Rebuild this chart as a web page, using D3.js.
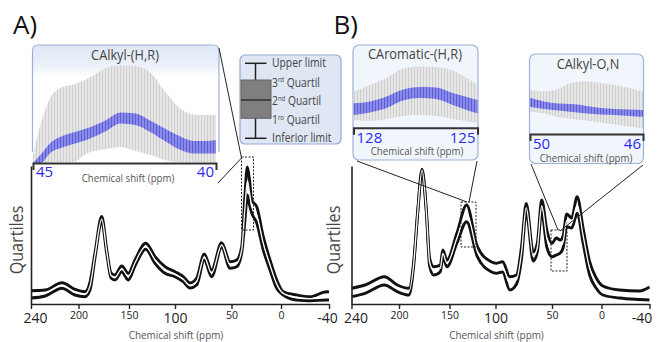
<!DOCTYPE html>
<html><head><meta charset="utf-8">
<script src="https://cdn.jsdelivr.net/npm/d3@7"></script>
<style>body{margin:0;background:#fff}svg{display:block;font-family:'Open Sans',sans-serif}</style>
</head><body><svg id="c" width="657" height="342"></svg>
<script>
// ---------------- DATA ----------------
const tickValues = [240, 200, 150, 100, 50, 0, -40];
const tickBig = [true, false, false, true, false, false, true];
const yLabel = "Quartiles";
const xLabel = "Chemical shift (ppm)";

// Panel A spectrum: ppm, upper quartile, lower quartile (relative intensity)
const specA_ppm   = [240, 228, 214, 203, 193.6, 188.6, 183.7, 177, 172, 167.8, 163.9, 157.2, 150.7, 143.5, 131.8, 121.7, 110.9, 100, 92.7, 86.7, 80.8, 74.1, 67.6, 58.7, 51.3, 44.7, 39.7, 36.4, 34, 31.8, 29.6, 24.5, 17.9, 11.1, 4.3, -1.9, -13.1, -24.2, -38.1, -40];
const specA_upper = [13.3, 14, 21.3, 14.7, 12.3, 22, 51, 87.5, 54, 31, 29, 38, 30.7, 44, 60.7, 47.3, 37.3, 32.3, 27.3, 21, 26, 50, 34, 61.3, 42.3, 44, 57.3, 109, 137, 124, 104, 97.3, 67.3, 44, 24, 12.3, 9, 7.3, 12.3, 12];
const specA_lower = [6, 8, 15.7, 9, 7.3, 14, 46, 82, 50, 26, 24, 32.3, 24, 38, 54.7, 40.7, 30.7, 27.3, 22.3, 16, 19, 44, 27.3, 56.7, 35.7, 37.3, 51, 84, 109, 99, 91, 81, 54, 34, 15.7, 9, 4, 3.3, 4, 4];

// Panel B spectrum
const specB_ppm   = [240, 228.6, 212.3, 201.4, 190.2, 185.3, 181.4, 177.2, 172.9, 169.7, 165.7, 159.1, 156.6, 152.6, 141.9, 131.4, 119.7, 104.8, 99.4, 93.7, 87.4, 81.4, 76.9, 72.8, 66.6, 63, 59.1, 54.6, 50, 45.7, 41.7, 38.8, 35.1, 30.1, 24.6, 18.6, 12, 5.3, -1.1, -15, -31.7, -40];
const specB_upper = [15.7, 19, 27.3, 19, 15.7, 44, 94, 134.7, 94, 46, 37.3, 39, 54, 44, 71, 99, 57.3, 42.3, 40.7, 42.3, 27.3, 29, 58, 100.5, 52, 61, 104, 74, 60.7, 66, 64, 68, 90, 86, 107.3, 76, 42.3, 26, 18, 14, 13, 17];
const specB_lower = [7.3, 10.7, 19, 12.3, 9, 40, 92, 133, 91, 38, 29, 32.3, 47.3, 37.3, 61, 82.3, 47.3, 32.3, 30.7, 32, 14, 20, 46, 92, 43, 52, 92, 57, 47.3, 49, 51, 56, 77.3, 76, 90.7, 61, 29, 15.7, 9, 6, 4.5, 4];

// Inset A: CAlkyl-(H,R), 45 -> 40 ppm
const insA_title = "CAlkyl-(H,R)";
const insA_ppm  = [45, 44.8, 44.5, 44.2, 43.9, 43.5, 43.0, 42.6, 42.2, 41.8, 41.4, 41.0, 40.6, 40.3, 40.0];
const insA_max  = [8, 38, 67, 76, 78.5, 84.5, 95, 97.5, 97, 90.5, 72, 55, 48.5, 48, 48];
const insA_min  = [0, 0, 0.5, 1, 1, 10, 14, 16, 12, 8, 3, 1, 1, 1, 1];
const insA_q3   = [0, 8, 21, 27, 30.5, 35, 43, 50.5, 49.5, 42.5, 34.5, 27, 22, 22, 23];
const insA_q1   = [0, 0, 11, 15.5, 19, 23.5, 32, 39.5, 38, 31, 22, 13.5, 9.5, 9.5, 9.5];
const insA_ticks = [45, 40];

// Inset B1: CAromatic-(H,R), 128 -> 125 ppm
const insB1_title = "CAromatic-(H,R)";
const insB1_ppm = [128, 127.6, 127.2, 126.8, 126.4, 126.0, 125.6, 125.3, 125.0];
const insB1_max = [36, 42.7, 49.7, 59.2, 61.2, 60.7, 57.2, 50.7, 42.7];
const insB1_min = [7.7, 6.7, 8.7, 11.7, 12.7, 11.7, 8.7, 6.7, 4.7];
const insB1_q3  = [24.4, 26.2, 31.2, 38.2, 40.7, 40.2, 34.7, 31.2, 27.7];
const insB1_q1  = [12.7, 15.2, 19.7, 27.2, 29.7, 28.7, 22.7, 18.2, 14.4];
const insB1_ticks = [128, 125];

// Inset B2: CAlkyl-O,N, 50 -> 46 ppm
const insB2_title = "CAlkyl-O,N";
const insB2_ppm = [50, 49.5, 49, 48.5, 48, 47.5, 47, 46.5, 46];
const insB2_max = [44, 42.5, 45, 51.5, 52.5, 51, 49, 46, 42.3];
const insB2_min = [22.3, 20.5, 17, 15, 13.5, 11.5, 9.5, 7.5, 5.7];
const insB2_q3  = [36.3, 32.5, 30.5, 30, 28, 26, 25, 24.5, 24];
const insB2_q1  = [27.3, 25, 23.5, 22, 20.5, 19.5, 19, 18, 17.3];
const insB2_ticks = [50, 46];

// Legend
const legendLabels = [["Upper limit", ""], ["3", "rd", " Quartil"], ["2", "nd", " Quartil"], ["1", "ro", " Quartil"], ["Inferior limit", ""]];

// ---------------- DRAW ----------------
const svg = d3.select('#c');
const defs = svg.append('defs');
const pg = defs.append('pattern').attr('id', 'gs').attr('width', 3).attr('height', 4).attr('patternUnits', 'userSpaceOnUse');
pg.append('rect').attr('width', 3).attr('height', 4).attr('fill', '#e6e6e6');
pg.append('rect').attr('width', 1).attr('height', 4).attr('fill', '#cfcfcf');
const pb = defs.append('pattern').attr('id', 'bs').attr('width', 3).attr('height', 4).attr('patternUnits', 'userSpaceOnUse');
pb.append('rect').attr('width', 3).attr('height', 4).attr('fill', '#8a8ae8');
pb.append('rect').attr('width', 1).attr('height', 4).attr('fill', '#5c5cd6');
const hg = defs.append('linearGradient').attr('id', 'hdr').attr('x1', 0).attr('y1', 0).attr('x2', 0).attr('y2', 1);
hg.append('stop').attr('offset', '0').attr('stop-color', '#e0e8f6');
hg.append('stop').attr('offset', '0.18').attr('stop-color', '#eaf0f9');
hg.append('stop').attr('offset', '0.3').attr('stop-color', '#ffffff');
hg.append('stop').attr('offset', '1').attr('stop-color', '#ffffff');

function txt(parent, x, y, s, size, anchor, fill, sx) {
  return parent.append('text').attr('transform', `translate(${x},${y}) scale(${sx || 1},1)`)
    .attr('font-size', size).attr('text-anchor', anchor || 'start').attr('fill', fill || '#444').text(s);
}

const yMain = d3.scaleLinear().domain([0, 140]).range([304, 164]);

function panel(off, ppm, up, lo, label, labelX, lastDx) {
  const g = svg.append('g').attr('transform', `translate(${off},0)`);
  const x = d3.scaleLinear().domain(tickValues).range([31, 78.5, 129, 175, 231.5, 281, 329]);
  const data = ppm.map((p, i) => ({p, u: up[i], l: lo[i], m: (up[i] + lo[i]) / 2}));
  const mk = key => d3.line().x(d => x(d.p)).y(d => yMain(d[key])).curve(d3.curveMonotoneX);
  g.append('path').datum(data).attr('d', mk('u')).attr('fill', 'none').attr('stroke', '#111').attr('stroke-width', 2.9).attr('stroke-linejoin', 'round');
  g.append('path').datum(data).attr('d', mk('l')).attr('fill', 'none').attr('stroke', '#111').attr('stroke-width', 2.9).attr('stroke-linejoin', 'round');
  g.append('path').datum(data).attr('d', mk('m')).attr('fill', 'none').attr('stroke', '#fff').attr('stroke-width', 1.3);
  const ax = g.append('g').attr('transform', 'translate(0,304)')
    .call(d3.axisBottom(x).tickValues(tickValues).tickSize(5).tickSizeOuter(0).tickFormat(d => d));
  ax.select('.domain').attr('stroke', '#222').attr('stroke-width', 1.6);
  ax.selectAll('.tick line').attr('stroke', '#222').attr('stroke-width', 1.4);
  ax.selectAll('.tick text').attr('font-family', "'Open Sans',sans-serif").attr('fill', '#222')
    .attr('dy', 0)
    .attr('font-size', (d, i) => tickBig[i] ? 14 : 10.5)
    .attr('y', (d, i) => tickBig[i] ? 19 : 15)
    .attr('dx', (d, i) => i === 0 ? 4 : (i === 6 ? lastDx : 0));
  const yAx = d3.scaleLinear().domain([0, 1]).range([304, 166]);
  g.append('g').attr('transform', 'translate(31,0)').call(d3.axisLeft(yAx).tickValues([]).tickSizeOuter(0))
    .select('.domain').attr('stroke', '#222').attr('stroke-width', 1.6);
  txt(g, 176, 338.5, xLabel, 11.5, 'middle', '#555', 0.86);
  g.append('text').attr('transform', `translate(${labelX},240) rotate(-90) scale(0.85,1)`)
    .attr('font-size', 19).attr('text-anchor', 'middle').attr('fill', '#444').text(yLabel);
  txt(svg, off + 13, 34, label, 26, 'start', '#111', 1);
  return {g, x};
}

panel(0, specA_ppm, specA_upper, specA_lower, 'A)', 23, -2);
panel(320.5, specB_ppm, specB_upper, specB_lower, 'B)', 19, -8);

function inset(o) {
  const g = svg.append('g');
  if (o.open) {
    g.append('path').attr('d', `M${o.x0},${o.yb} V${o.y0 + 6} Q${o.x0},${o.y0} ${o.x0 + 6},${o.y0} H${o.x1 - 6} Q${o.x1},${o.y0} ${o.x1},${o.y0 + 6} V${o.yb}`)
      .attr('fill', 'url(#hdr)').attr('stroke', '#9db0da').attr('stroke-width', 1.2);
  } else {
    g.append('rect').attr('x', o.x0).attr('y', o.y0).attr('width', o.x1 - o.x0).attr('height', o.y1 - o.y0).attr('rx', 6)
      .attr('fill', '#f1f5fc').attr('stroke', '#9db0da').attr('stroke-width', 1.2);
  }
  const x = d3.scaleLinear().domain(o.ticks).range([o.ax0, o.ax1]);
  const y = d3.scaleLinear().domain([0, 100]).range([o.axY, o.axY - 100]);
  const d = o.ppm.map((p, i) => ({p, mx: o.max[i], mn: o.min[i], q3: o.q3[i], q1: o.q1[i]}));
  g.append('path').datum(d).attr('d', d3.area().x(e => x(e.p)).y0(e => y(e.mn)).y1(e => y(e.mx)).curve(d3.curveMonotoneX)).attr('fill', 'url(#gs)');
  g.append('path').datum(d).attr('d', d3.area().x(e => x(e.p)).y0(e => y(e.q1)).y1(e => y(e.q3)).curve(d3.curveMonotoneX)).attr('fill', 'url(#bs)');
  const ax = g.append('g').attr('transform', `translate(0,${o.axY})`)
    .call(d3.axisBottom(x).tickValues([]).tickSizeOuter(7));
  ax.select('.domain').attr('stroke', '#333').attr('stroke-width', 2);
  o.ticks.forEach((t, i) => txt(g, x(t) + (i === 0 ? 3 : -2), o.axY + o.tlY, t, 15, i === 0 ? 'start' : 'end', '#2a2af0', 1));
  txt(g, o.lblX, o.axY + o.lblY, xLabel, 11, 'middle', '#555', 0.88);
  txt(g, o.tX, o.tY, o.title, 14.5, 'middle', '#444', 0.88);
}

inset({open: true, x0: 32.5, x1: 219, y0: 45, yb: 152, ticks: insA_ticks, ax0: 33, ax1: 216, axY: 163,
  ppm: insA_ppm, max: insA_max, min: insA_min, q3: insA_q3, q1: insA_q1,
  tlY: 14, lblX: 128, lblY: 19, title: insA_title, tX: 125, tY: 60});
inset({open: false, x0: 353, x1: 478, y0: 45, y1: 160, ticks: insB1_ticks, ax0: 353.5, ax1: 477.5, axY: 127.7,
  ppm: insB1_ppm, max: insB1_max, min: insB1_min, q3: insB1_q3, q1: insB1_q1,
  tlY: 15.5, lblX: 417, lblY: 27.5, title: insB1_title, tX: 415, tY: 58.5});
inset({open: false, x0: 529.5, x1: 643.5, y0: 54, y1: 163.5, ticks: insB2_ticks, ax0: 530, ax1: 643, axY: 134,
  ppm: insB2_ppm, max: insB2_max, min: insB2_min, q3: insB2_q3, q1: insB2_q1,
  tlY: 14.5, lblX: 586, lblY: 27.5, title: insB2_title, tX: 588, tY: 68.5});

const deco = svg.append('g').attr('fill', 'none').attr('stroke', '#222');
[[241.5, 157, 12, 73], [461, 202, 15, 45], [551, 230, 16, 41]].forEach(r =>
  deco.append('rect').attr('x', r[0]).attr('y', r[1]).attr('width', r[2]).attr('height', r[3]).attr('stroke-dasharray', '2,1.5').attr('stroke-width', 1));
[[219, 48, 241.5, 158], [218, 183, 241.5, 158], [357, 161, 467, 202], [477, 161, 469, 202], [531, 164, 558, 230], [643, 165, 560, 231]].forEach(l =>
  deco.append('line').attr('x1', l[0]).attr('y1', l[1]).attr('x2', l[2]).attr('y2', l[3]).attr('stroke-width', 1));

const lg = svg.append('g');
lg.append('rect').attr('x', 240).attr('y', 55).attr('width', 101).attr('height', 89).attr('rx', 5).attr('fill', '#dfe7f5').attr('stroke', '#93a9d6').attr('stroke-width', 1.2);
lg.append('line').attr('x1', 255.5).attr('x2', 255.5).attr('y1', 63.3).attr('y2', 138.3).attr('stroke', '#222').attr('stroke-width', 1.5);
lg.append('rect').attr('x', 241).attr('y', 80).attr('width', 30).attr('height', 38.3).attr('fill', '#7f7f7f').attr('stroke', '#666');
lg.append('line').attr('x1', 241).attr('x2', 271).attr('y1', 100).attr('y2', 100).attr('stroke', '#222').attr('stroke-width', 1.3);
[63.3, 138.3].forEach(yy => lg.append('line').attr('x1', 245).attr('x2', 266.5).attr('y1', yy).attr('y2', yy).attr('stroke', '#222').attr('stroke-width', 1.5));
const ly = [67, 86.5, 105, 124, 142];
legendLabels.forEach((lab, i) => {
  const t = lg.append('text').attr('transform', `translate(272,${ly[i]}) scale(0.86,1)`).attr('font-size', 12).attr('fill', '#444');
  if (lab.length === 2) t.text(lab[0]);
  else {
    t.append('tspan').text(lab[0]);
    t.append('tspan').attr('font-size', 7).attr('dy', -4.5).text(lab[1]);
    t.append('tspan').attr('dy', 4.5).text(lab[2]);
  }
});
</script></body></html>
